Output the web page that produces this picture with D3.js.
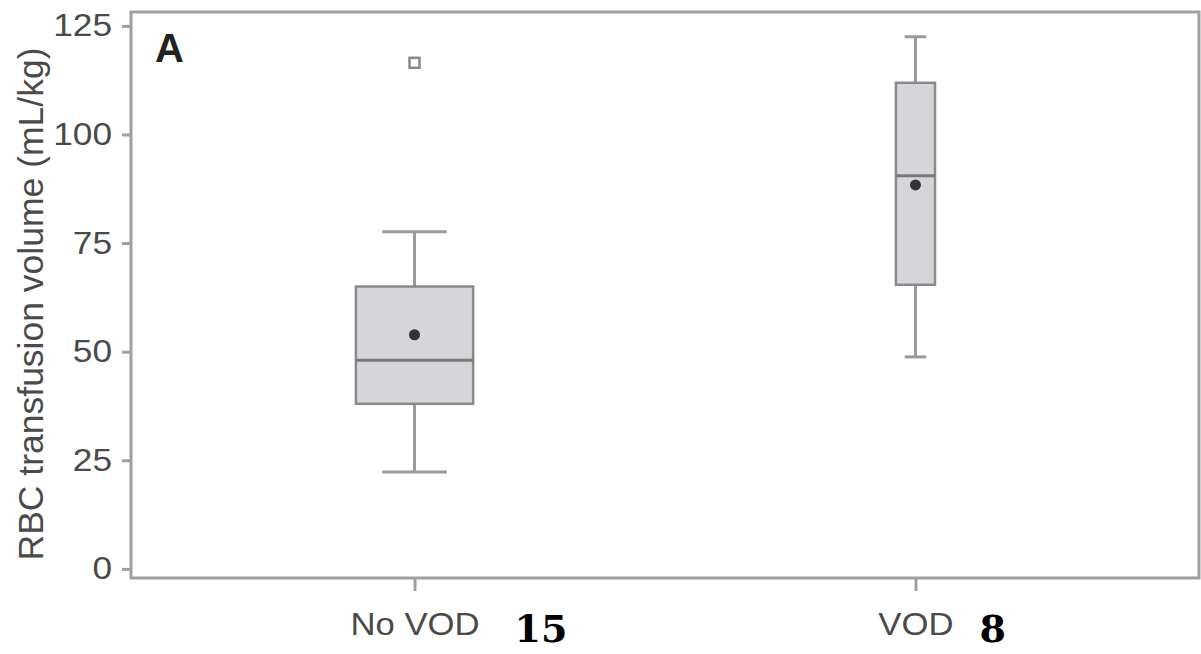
<!DOCTYPE html>
<html><head><meta charset="utf-8">
<script src="https://cdn.jsdelivr.net/npm/d3@7/dist/d3.min.js"></script>
<style>body{margin:0;background:#fff}svg{display:block}</style>
</head><body>
<svg id="c" width="1201" height="654"></svg>
<script>
const categories = ["No VOD", "VOD"];
const counts = ["15", "8"];
const whiskerLow = [22.3, 48.8];
const q1 = [38, 65.4];
const median = [48, 90.5];
const q3 = [65, 111.9];
const whiskerHigh = [77.6, 122.5];
const means = [53.9, 88.4];
const outliers = [[116.5], []];
const boxWidthFrac = [0.234, 0.078];
const yTicks = [0, 25, 50, 75, 100, 125];

const svg = d3.select("#c");
const L = 131, R = 1199, T = 12, B = 578;
const y = d3.scaleLinear().domain([-2.1, 128.2]).range([B, T]);
const x = d3.scalePoint().domain(categories).range([L, R]).padding(0.566);
const step = x.step();
const axisCol = "#a0a0a0", txt = "#4a4a4a";
const sans = "Liberation Sans, Arial, sans-serif";
const sx = 1.12;

// frame
svg.append("rect").attr("x", L).attr("y", T).attr("width", R - L).attr("height", B - T)
  .attr("fill", "none").attr("stroke", axisCol).attr("stroke-width", 3);

// y axis
const ya = svg.append("g").attr("transform", `translate(${L},0)`)
  .call(d3.axisLeft(y).tickValues(yTicks).tickSize(9).tickPadding(5));
ya.select(".domain").remove();
ya.selectAll("line").attr("stroke", axisCol).attr("stroke-width", 3);
ya.selectAll("text").attr("fill", txt).attr("font-family", sans).attr("font-size", 31.5)
  .attr("x", -19 / sx).attr("transform", `scale(${sx},1)`);

// x axis
const xa = svg.append("g").attr("transform", `translate(0,${B})`)
  .call(d3.axisBottom(x).tickSize(13).tickPadding(22));
xa.select(".domain").remove();
xa.selectAll("line").attr("stroke", axisCol).attr("stroke-width", 3);
xa.selectAll("text").attr("fill", txt).attr("font-family", sans).attr("font-size", 31)
  .attr("transform", `scale(${sx},1)`);

// counts
svg.selectAll("text.cnt").data(categories).join("text").attr("class", "cnt")
  .attr("x", (d, i) => x(d) + (i === 0 ? 100 : 64)).attr("y", 642)
  .attr("font-family", "DejaVu Serif, Liberation Serif, serif").attr("font-weight", "bold")
  .attr("font-size", 38).attr("fill", "#000").text((d, i) => counts[i]);

// y title
svg.append("text").attr("transform", `translate(43,304) rotate(-90)`)
  .attr("text-anchor", "middle").attr("fill", txt)
  .attr("font-family", sans).attr("font-size", 35.5)
  .text("RBC transfusion volume (mL/kg)");

// panel label
svg.append("text").attr("x", 155).attr("y", 62).attr("font-family", sans)
  .attr("font-weight", "bold").attr("font-size", 40).attr("fill", "#222").text("A");

// boxes
categories.forEach((c, i) => {
  const cx = x(c), w = boxWidthFrac[i] * step, cap = w * 0.55;
  const g = svg.append("g");
  const wc = "#9a9a9a";
  g.append("line").attr("x1", cx).attr("x2", cx).attr("y1", y(whiskerHigh[i])).attr("y2", y(q3[i])).attr("stroke", wc).attr("stroke-width", 3);
  g.append("line").attr("x1", cx).attr("x2", cx).attr("y1", y(q1[i])).attr("y2", y(whiskerLow[i])).attr("stroke", wc).attr("stroke-width", 3);
  g.append("line").attr("x1", cx - cap / 2).attr("x2", cx + cap / 2).attr("y1", y(whiskerHigh[i])).attr("y2", y(whiskerHigh[i])).attr("stroke", wc).attr("stroke-width", 3);
  g.append("line").attr("x1", cx - cap / 2).attr("x2", cx + cap / 2).attr("y1", y(whiskerLow[i])).attr("y2", y(whiskerLow[i])).attr("stroke", wc).attr("stroke-width", 3);
  g.append("rect").attr("x", cx - w / 2).attr("y", y(q3[i])).attr("width", w).attr("height", y(q1[i]) - y(q3[i]))
    .attr("fill", "#d6d6da").attr("stroke", "#8a8a8a").attr("stroke-width", 2.5);
  g.append("line").attr("x1", cx - w / 2).attr("x2", cx + w / 2).attr("y1", y(median[i])).attr("y2", y(median[i])).attr("stroke", "#7a7a7a").attr("stroke-width", 3);
  g.append("circle").attr("cx", cx).attr("cy", y(means[i])).attr("r", 5.5).attr("fill", "#333");
  outliers[i].forEach(v => {
    g.append("rect").attr("x", cx - 5).attr("y", y(v) - 5).attr("width", 10).attr("height", 10)
      .attr("fill", "#fff").attr("stroke", "#888").attr("stroke-width", 2.5);
  });
});
</script>
</body></html>
